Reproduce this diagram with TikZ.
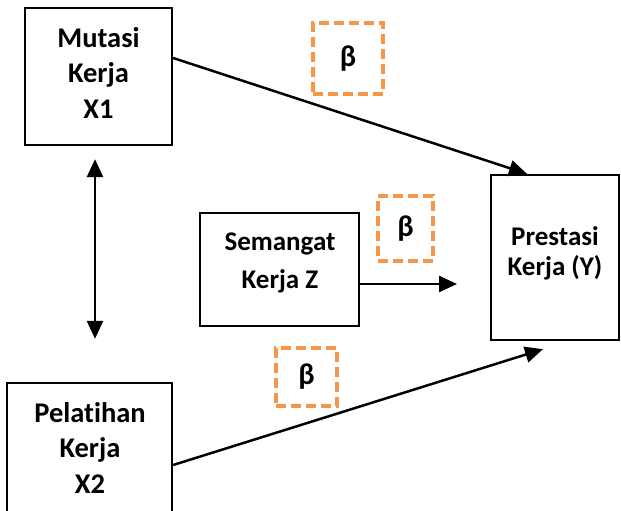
\documentclass[tikz,border=0pt]{standalone}
\usepackage{fontspec}
\setmainfont[Ligatures={NoCommon}]{Carlito}
\usetikzlibrary{arrows.meta}
\definecolor{betaor}{HTML}{F79646}
\tikzset{
  boxnode/.style={draw=black,line width=2.3pt,inner sep=0pt},
  txtnode/.style={align=center,inner sep=0pt,font=\bfseries\fontsize{28.5}{35.5}\selectfont},
  betanode/.style={draw=betaor,line width=3.2pt,dash pattern=on 10pt off 5pt,font=\bfseries\fontsize{30}{30}\selectfont,inner sep=0pt},
  conn/.style={line width=2.5pt,-{Triangle[length=18pt,width=16pt]}},
  dconn/.style={line width=2.5pt,{Triangle[length=18pt,width=16pt]}-{Triangle[length=18pt,width=16pt]}}
}
\begin{document}
\begin{tikzpicture}[x=1pt,y=-1pt]
\useasboundingbox (0,0) rectangle (621,511);
\clip (0,0) rectangle (621,511);
\node[boxnode,minimum width=147pt,minimum height=137pt] (m) at (98.5,76.5) {};
\node[txtnode] (mt) at (98.5,73) {Mutasi\\Kerja\\X1};
\node[boxnode,minimum width=165pt,minimum height=156pt] (p) at (89.5,461) {};
\node[txtnode] (pt) at (90,447.5) {Pelatihan\\Kerja\\X2};
\node[boxnode,minimum width=159pt,minimum height=113pt] (z) at (279.5,269.5) {};
\node[txtnode,font=\bfseries\fontsize{27}{38}\selectfont] (zt) at (280,262.5) {Semangat\\Kerja Z};
\node[boxnode,minimum width=128pt,minimum height=165pt] (y) at (555,257.5) {};
\node[txtnode,font=\bfseries\fontsize{27}{30}\selectfont] (yt) at (555,253) {Prestasi\\Kerja (Y)};
\node[betanode,minimum width=70pt,minimum height=71pt] (b1) at (348,58.5) {β};
\node[betanode,minimum width=55pt,minimum height=65pt] (b2) at (405.5,228.5) {β};
\node[betanode,minimum width=61pt,minimum height=58pt] (b3) at (306.5,377) {β};
\coordinate (zend) at (457,284);
\draw[conn] ([yshift=18.5pt]m.east) -- ([xshift=-28pt]y.north);
\draw[conn] ([yshift=-14.5pt]z.east) -- (zend);
\draw[conn] ([yshift=-4pt]p.east) -- ([xshift=-12pt,yshift=-8pt]y.south);
\draw[dconn] ([xshift=-3.5pt,yshift=-13pt]m.south) -- ([xshift=5.5pt,yshift=43pt]p.north);
\end{tikzpicture}
\end{document}
